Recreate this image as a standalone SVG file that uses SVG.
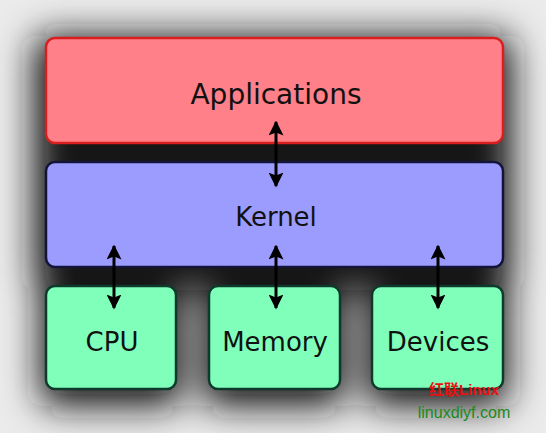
<svg xmlns="http://www.w3.org/2000/svg" width="546" height="433" viewBox="0 0 546 433">
<defs>
<filter id="blur" x="-50%" y="-50%" width="200%" height="200%"><feGaussianBlur stdDeviation="18"/></filter>
<marker id="ah" viewBox="0 0 10 10" refX="9" refY="5" markerWidth="5" markerHeight="5" orient="auto-start-reverse"><path d="M0,0 L10,5 L0,10 L2,5 z" fill="#000"/></marker>
</defs>
<style>
.lbl{font-family:"DejaVu Sans",sans-serif;fill:#111;text-anchor:middle}
.app{fill:#ff8088;stroke:#d81e1e;stroke-width:2.5}
.ker{fill:#9c9cff;stroke:#14143a;stroke-width:2.5}
.hw{fill:#80ffbb;stroke:#0e3a2c;stroke-width:2.5}
.conn{stroke:#000;stroke-width:3;fill:none;marker-start:url(#ah);marker-end:url(#ah)}
</style>
<rect width="546" height="433" fill="#ebebeb"/>
<g id="shadow" filter="url(#blur)" fill="#141414">
<rect x="34" y="36" width="478" height="254" rx="14"/>
<rect x="40" y="280" width="142" height="126" rx="14"/>
<rect x="203" y="280" width="142" height="126" rx="14"/>
<rect x="366" y="280" width="142" height="126" rx="14"/>
</g>
<g id="applications"><rect class="app" x="46" y="38" width="457" height="105" rx="9"/><text class="lbl" x="276" y="104" font-size="28">Applications</text></g>
<g id="kernel"><rect class="ker" x="46" y="162" width="457" height="105" rx="9"/><text class="lbl" x="276" y="226" font-size="26">Kernel</text></g>
<g id="cpu"><rect class="hw" x="46" y="286" width="130" height="103" rx="9"/><text class="lbl" x="112" y="351" font-size="26">CPU</text></g>
<g id="memory"><rect class="hw" x="209" y="286" width="131" height="103" rx="9"/><text class="lbl" x="275" y="351" font-size="26">Memory</text></g>
<g id="devices"><rect class="hw" x="372" y="286" width="131" height="103" rx="9"/><text class="lbl" x="438" y="351" font-size="26">Devices</text></g>
<g id="connectors">
<line class="conn" x1="276" y1="122" x2="276" y2="186"/>
<line class="conn" x1="114" y1="246" x2="114" y2="308"/>
<line class="conn" x1="276" y1="246" x2="276" y2="308"/>
<line class="conn" x1="438" y1="246" x2="438" y2="308"/>
</g>
<g id="watermark" font-family="'Liberation Sans','Noto Sans CJK SC',sans-serif" text-anchor="middle">
<text x="464" y="395" font-size="15" font-weight="bold" fill="#e81010">红联Linux</text>
<text x="464" y="418" font-size="16" fill="#1a8a1a">linuxdiyf.com</text>
</g>
</svg>
